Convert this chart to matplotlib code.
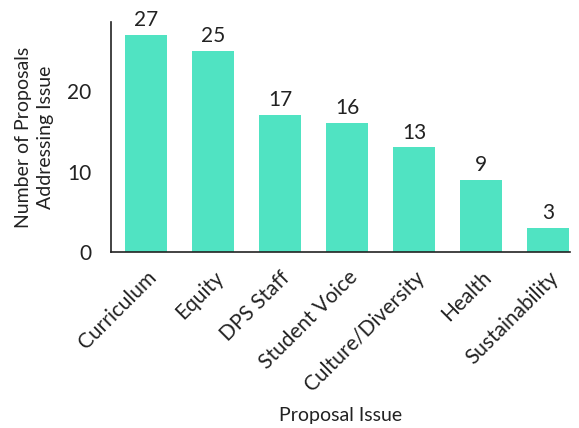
import matplotlib
matplotlib.use("Agg")
import matplotlib.pyplot as plt

categories = ["Curriculum", "Equity", "DPS Staff", "Student Voice", "Culture/Diversity", "Health", "Sustainability"]
values = [27, 25, 17, 16, 13, 9, 3]
yticks = [0, 10, 20]

plt.rcParams['font.family'] = ['Lato', 'DejaVu Sans']

fig = plt.figure(figsize=(5.79, 4.28), dpi=100)
ax = fig.add_axes([0.192, 0.411, 0.792, 0.538])
x = range(len(categories))
bars = ax.bar(x, values, width=0.63, color="#50E3C2")
for xi, v in zip(x, values):
    ax.text(xi, v + 0.6, str(v), ha='center', va='bottom', fontsize=15, color='#222222')

ax.set_ylim(0, 28.6)
ax.set_xlim(-0.52, 6.32)
ax.set_yticks(yticks)
ax.set_xticks(list(x))
ax.set_xticklabels(categories, rotation=45, ha='right', rotation_mode='anchor', fontsize=15, color='#222222')
ax.tick_params(axis='y', length=0, labelsize=15, colors='#222222', pad=14)
ax.tick_params(axis='x', length=0, colors='#222222', pad=11)
for s in ['top', 'right']:
    ax.spines[s].set_visible(False)
for s in ['left', 'bottom']:
    ax.spines[s].set_color('#222222')
    ax.spines[s].set_linewidth(1.2)
ax.set_ylabel("Number of Proposals\nAddressing Issue", fontsize=14, color='#222222', labelpad=10, linespacing=1.3)
ax.set_xlabel("Proposal Issue", fontsize=14, color='#222222', labelpad=9)

fig.savefig("out.png", dpi=100)
